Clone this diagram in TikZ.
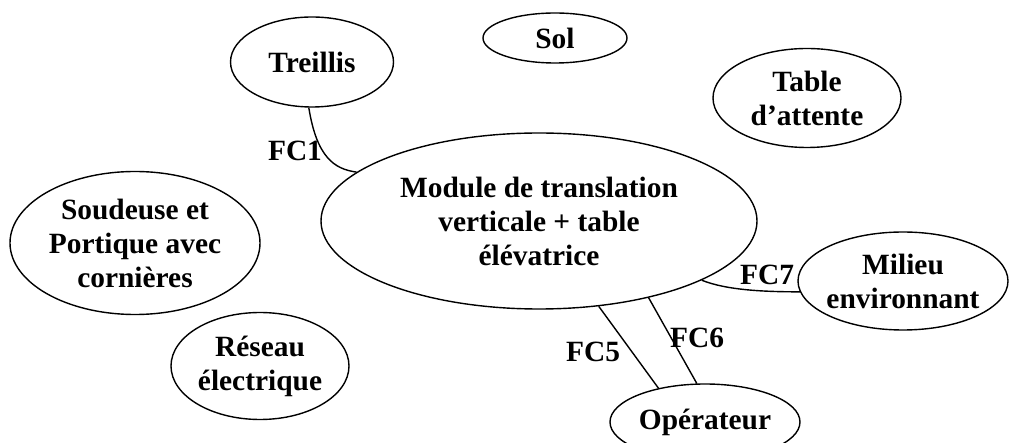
\documentclass[tikz,border=0pt]{standalone}
\usepackage{fontspec}
\setmainfont{Liberation Serif}
\usetikzlibrary{shapes.geometric}
\begin{document}
\begin{tikzpicture}[x=1pt,y=-1pt,
  bub/.style={ellipse,draw,line width=1.4pt,inner sep=0pt,align=center,
    font=\fontsize{29.4}{34}\selectfont\bfseries},
  fc/.style={font=\fontsize{29.4}{34}\selectfont\bfseries,inner sep=0pt},
  link/.style={line width=1.4pt}]
\useasboundingbox (0,0) rectangle (1010,443);
\clip (0,0) rectangle (1010,443);
\node[bub,minimum width=163pt,minimum height=90pt] (tre) at (312,62) {Treillis};
\node[bub,minimum width=144pt,minimum height=50pt] (sol) at (555,38) {Sol};
\node[bub,minimum width=188pt,minimum height=99pt] (tab) at (807,98) {Table\\d’attente};
\node[bub,minimum width=436pt,minimum height=176pt] (mod) at (539,221) {Module de translation\\verticale + table\\élévatrice};
\node[bub,minimum width=250pt,minimum height=143pt] (sou) at (135,243) {Soudeuse et\\Portique avec\\cornières};
\node[bub,minimum width=178pt,minimum height=107pt] (res) at (260,366) {Réseau\\électrique};
\node[bub,inner xsep=-8pt,minimum width=210pt,minimum height=98pt] (mil) at (903,281) {Milieu\\environnant};
\node[bub,minimum width=190pt,minimum height=76pt] (ope) at (705,422) {Opérateur};
\draw[link] (tre.-94) .. controls +(8,50) and +(-22,-3) .. (mod.165);
\draw[link] (mod.-20.4) .. controls +(25,10) and +(-35,0) .. (mil.-174);
\draw[link] (mod.-55.7) -- (ope.144.7);
\draw[link] (mod.-35.5) -- (ope.102);
\node[fc] (l1) at (295,151) {FC1};
\node[fc] (l7) at (767,275) {FC7};
\node[fc] (l5) at (593,352) {FC5};
\node[fc] (l6) at (697,338) {FC6};
\end{tikzpicture}
\end{document}
